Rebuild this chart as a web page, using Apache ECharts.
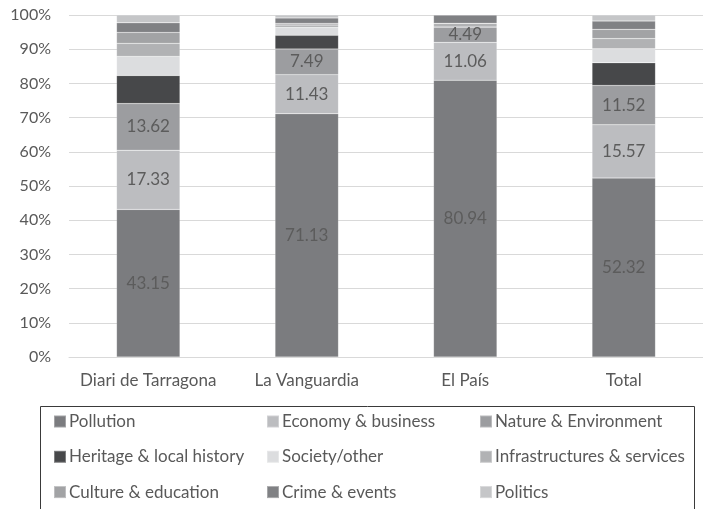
<!DOCTYPE html>
<html>
<head>
<meta charset="utf-8">
<script src="https://cdn.jsdelivr.net/npm/echarts@6/dist/echarts.min.js"></script>
<style>
  html, body { margin: 0; padding: 0; background: #fff; }
  #chart { width: 703px; height: 509px; }
</style>
</head>
<body>
<div id="chart"></div>
<script>
// 类目与数据（百分比）
const categories = ['Diari de Tarragona', 'La Vanguardia', 'El País', 'Total']
const pollution = [43.15, 71.13, 80.94, 52.32]
const economy = [17.33, 11.43, 11.06, 15.57]
const nature = [13.62, 7.49, 4.49, 11.52]
const heritage = [8.2, 4.0, 0, 6.6]
const society = [5.6, 2.3, 0, 4.1]
const infrastructures = [3.8, 0.7, 1.1, 3.0]
const culture = [3.2, 0.5, 0, 2.7]
const crime = [2.8, 1.6, 2.4, 2.4]
const politics = [2.3, 0.85, 0.01, 1.77]
const yTicks = [0, 10, 20, 30, 40, 50, 60, 70, 80, 90, 100]

const seriesList = [
    { name: 'Pollution', data: pollution, color: '#7b7c7f', label: true },
    { name: 'Economy & business', data: economy, color: '#bcbdc0', label: true },
    { name: 'Nature & Environment', data: nature, color: '#9c9da0', label: true },
    { name: 'Heritage & local history', data: heritage, color: '#47484a' },
    { name: 'Society/other', data: society, color: '#dcdddf' },
    { name: 'Infrastructures & services', data: infrastructures, color: '#b1b2b4' },
    { name: 'Culture & education', data: culture, color: '#a2a3a5' },
    { name: 'Crime & events', data: crime, color: '#808184' },
    { name: 'Politics', data: politics, color: '#c5c6c8' }
]

const font = 'Lato, "Open Sans", sans-serif'
const textColor = '#595959'

let mychart = echarts.init(document.getElementById('chart'))

// 图例分三列
const legendCols = [
    [seriesList[0].name, seriesList[3].name, seriesList[6].name],
    [seriesList[1].name, seriesList[4].name, seriesList[7].name],
    [seriesList[2].name, seriesList[5].name, seriesList[8].name]
]
const legendLeft = [53, 266, 479]

mychart.setOption({
    animation: false,
    grid: { left: 69, top: 15, width: 645, bottom: 152 },
    xAxis: {
        type: 'category',
        data: categories,
        axisLine: { lineStyle: { color: '#d9d9d9' } },
        axisTick: { show: false },
        axisLabel: { interval: 0, color: textColor, fontSize: 17, fontFamily: font, margin: 15 }
    },
    yAxis: {
        type: 'value',
        min: yTicks[0],
        max: yTicks[yTicks.length - 1],
        interval: 10,
        axisLine: { show: false },
        axisTick: { show: false },
        splitLine: { lineStyle: { color: '#d9d9d9', width: 1 } },
        axisLabel: { color: textColor, fontSize: 16, fontFamily: font, margin: 18, formatter: '{value}%' }
    },
    legend: legendCols.map((names, i) => ({
        data: names,
        orient: 'vertical',
        left: legendLeft[i],
        top: 413,
        padding: 0,
        itemWidth: 12,
        itemHeight: 12,
        itemGap: 18.3,
        icon: 'rect',
        textStyle: { color: textColor, fontSize: 17, lineHeight: 17, fontFamily: font, padding: [0, 0, 0, -2] }
    })),
    graphic: [{
        type: 'rect',
        shape: { x: 40.5, y: 406.5, width: 654, height: 130 },
        style: { fill: 'none', stroke: '#3a3a3a', lineWidth: 1 },
        silent: true
    }],
    series: seriesList.map(s => ({
        name: s.name,
        type: 'bar',
        stack: 'total',
        barWidth: '40%',
        data: s.data,
        itemStyle: { color: s.color, borderColor: 'rgba(255,255,255,0.3)', borderWidth: 0.5 },
        label: {
            show: !!s.label,
            position: 'inside',
            color: '#5c5c5c',
            fontSize: 17,
            fontFamily: font
        }
    }))
})
</script>
</body>
</html>
